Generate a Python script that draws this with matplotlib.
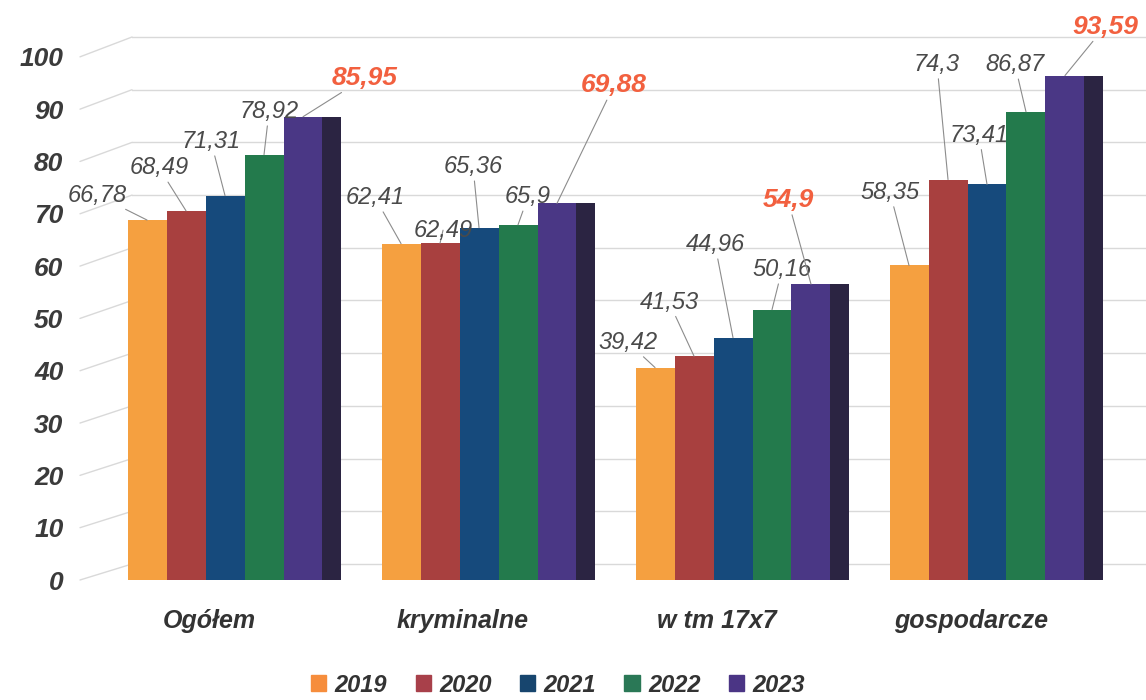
import matplotlib.pyplot as plt
from matplotlib.patches import Patch, ConnectionPatch
from matplotlib.transforms import ScaledTranslation
import numpy as np

plt.rcParams['font.family'] = ['Liberation Sans', 'DejaVu Sans']

kategorie = ['Ogółem', 'kryminalne', 'w tm 17x7', 'gospodarcze']
lata = ['2019', '2020', '2021', '2022', '2023']
v2019 = [66.78, 62.41, 39.42, 58.35]
v2020 = [68.49, 62.49, 41.53, 74.3]
v2021 = [71.31, 65.36, 44.96, 73.41]
v2022 = [78.92, 65.9, 50.16, 86.87]
v2023 = [85.95, 69.88, 54.9, 93.59]
serie = [v2019, v2020, v2021, v2022, v2023]

kolory = ['#f5a040', '#a8403f', '#164a7c', '#237a4c', '#4a3785']
kolory_leg = ['#f68d3c', '#a8404a', '#17456e', '#2a7856', '#4b3585']
bok = '#2b2442'      # ciemny bok ostatniego slupka (efekt 3D)
siatka = '#d9d9d9'

# przesuniecia etykiet (piksele) wzgledem wierzcholka slupka
przes = [
    [(-50, 25), (-26, 46), (-27, 25), (-19, 73)],
    [(-27, 43), (3, 13), (-25, 54), (-11, 115)],
    [(-14, 54), (-6, 61), (-18, 93), (-8, 49)],
    [(5, 43), (10, 28), (10, 40), (-11, 47)],
    [(62, 39), (57, 118), (-23, 84), (40, 49)],
]

W, H = 1146, 700
fig = plt.figure(figsize=(W / 100, H / 100), dpi=100)

def fx(p):
    return p / W

def box(left, right, top=30, bottom=580):
    return [left / W, 1 - bottom / H, (right - left) / W, (bottom - top) / H]

# os z siatka (tylna sciana)
axg = fig.add_axes(box(132, 1146), zorder=0)
axg.set_ylim(-3.04, 101.33)
axg.set_yticks(range(0, 101, 10))
axg.set_xticks([])
axg.tick_params(axis='y', length=0, labelleft=False)
axg.grid(axis='y', color=siatka, lw=1)
for s in axg.spines.values():
    s.set_visible(False)

# os z etykietami osi Y
axl = fig.add_axes(box(80, 90), zorder=1)
axl.set_ylim(0.57, 105.13)
axl.set_yticks(range(0, 101, 10))
axl.set_yticklabels([str(t) for t in range(0, 101, 10)], fontsize=19,
                    fontweight='bold', style='italic', color='#3b3b3b')
axl.tick_params(axis='y', length=0, pad=12)
axl.set_xticks([])
axl.patch.set_visible(False)
for s in axl.spines.values():
    s.set_visible(False)

for t in range(0, 101, 10):
    cp = ConnectionPatch(xyA=(0, t), coordsA=axl.get_yaxis_transform(),
                         xyB=(0, t), coordsB=axg.get_yaxis_transform(),
                         color=siatka, lw=1)
    fig.add_artist(cp)

# glowna os ze slupkami
ax = fig.add_axes(box(80, 1146), zorder=2)
ax.patch.set_visible(False)
ax.set_xlim(-0.571, 3.626)
ax.set_ylim(0, 102.04)

x = np.arange(len(kategorie))
w = 0.1535
for k, vals in enumerate(serie):
    ax.bar(x + (k - 2) * w, vals, w, color=kolory[k], zorder=3)
ax.bar(x + 2.5 * w, v2023, 0.071, align='edge', color=bok, zorder=3)

for k, vals in enumerate(serie):
    for i, v in enumerate(vals):
        txt = f'{v:g}'.replace('.', ',')
        if k == 4:
            kw = dict(fontsize=19, fontweight='bold', color='#f2603f')
        else:
            kw = dict(fontsize=17, color='#4a4a4a')
        ax.annotate(txt, xy=(x[i] + (k - 2) * w, v), xytext=przes[k][i],
                    textcoords='offset pixels', ha='center', va='center',
                    style='italic', zorder=5,
                    arrowprops=dict(arrowstyle='-', color='#8c8c8c', lw=0.8,
                                    shrinkA=0, shrinkB=0),
                    **kw)

ax.set_xticks(x, kategorie, fontsize=18, fontweight='bold', style='italic',
              color='#333333')
ax.tick_params(axis='x', length=0, pad=21)
for lbl in ax.get_xticklabels():
    lbl.set_transform(lbl.get_transform() +
                      ScaledTranslation(-0.16, 0, fig.dpi_scale_trans))
ax.set_yticks([])
for s in ax.spines.values():
    s.set_visible(False)

uchwyty = [Patch(color=c, label=l) for c, l in zip(kolory_leg, lata)]
fig.legend(handles=uchwyty, loc='center', bbox_to_anchor=(fx(558), 1 - 685 / H),
           ncol=5, frameon=False, handlelength=0.65, handleheight=0.65,
           handletextpad=0.35, columnspacing=1.2, labelcolor='#333333',
           prop=dict(family=['Liberation Sans', 'DejaVu Sans'], weight='bold',
                     style='italic', size=17))

fig.savefig('out.png', dpi=100)
